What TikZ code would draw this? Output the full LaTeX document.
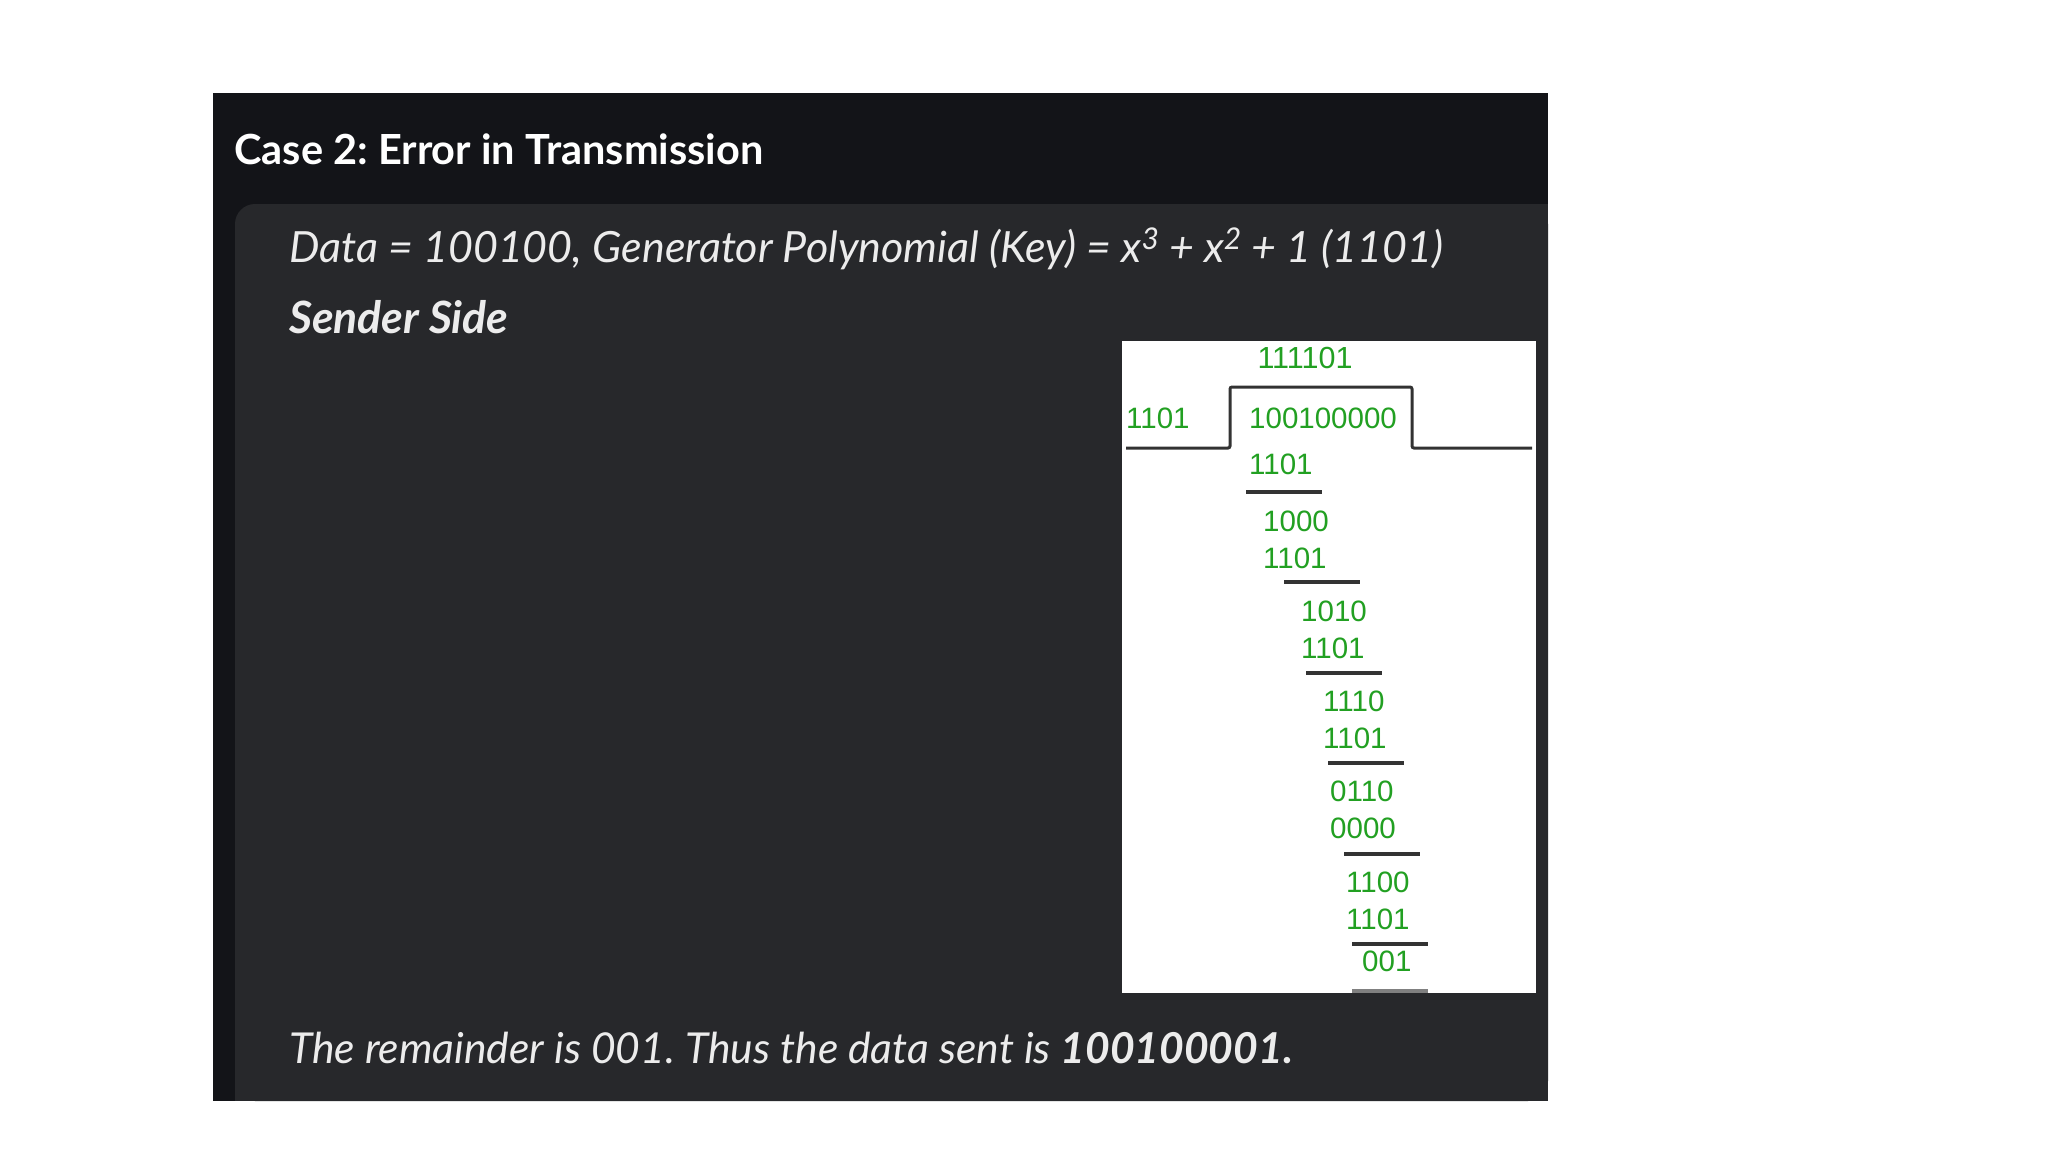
\documentclass[tikz,border=0pt]{standalone}
\usepackage{fontspec}
\setmainfont{Lato}
\newfontfamily\digitfont{Liberation Sans}
\frenchspacing
\definecolor{hdr}{HTML}{131418}
\definecolor{card}{HTML}{27282B}
\definecolor{txt}{HTML}{ECECEC}
\definecolor{grn}{HTML}{22A022}
\definecolor{rule}{HTML}{333333}
\newcommand{\supr}[1]{\raisebox{0.62ex}{\fontsize{30}{30}\selectfont #1}}
\begin{document}
\begin{tikzpicture}[x=1pt,y=-1pt,
  dig/.style={font=\digitfont\fontsize{29.5}{29.5}\selectfont, text=grn, inner sep=0pt, anchor=west},
  divline/.style={draw=rule, line width=3.2pt},
  body/.style={text=txt, inner sep=0pt, anchor=west}]
\useasboundingbox (0,0) rectangle (2048,1152);
\fill[white] (0,0) rectangle (2048,1152);
% panels
\fill[hdr] (213,93) rectangle (1548,1101);
\fill[card, rounded corners=20pt] (235,204) -- (1548,204) -- (1548,1101) -- (235,1101) -- cycle;
\fill[card] (1500,204) rectangle (1548,1101);
\fill[card] (235,1060) rectangle (1548,1101);
% texts
\node[body, text=white, font=\bfseries\fontsize{41.5}{41.5}\selectfont] (title) at (234,149) {Case 2: Error in Transmission};
\node[body, font=\itshape\fontsize{43}{43}\selectfont] (data) at (289,249) {Data = 100100, Generator Polynomial (Key) = x\supr{3} + x\supr{2} + 1 (1101)};
\node[body, font=\bfseries\itshape\fontsize{44.5}{44.5}\selectfont] (sender) at (289,317) {Sender Side};
\node[body, font=\itshape\fontsize{42.6}{42.6}\selectfont] (result) at (289,1048) {The remainder is 001. Thus the data sent is \textbf{100100001.}};
% white box
\fill[white] (1122,341) rectangle (1536,993);
\node[dig, anchor=center, font=\digitfont\fontsize{30.5}{30.5}\selectfont] (q) at (1305,358) {111101};
\node[dig] (key) at (1126,418) {1101};
\node[dig] (dd) at (1249,418) {100100000};
\draw[line width=3pt, draw=rule, rounded corners=2pt] (1126,448) -- (1230,448) -- (1230,387) -- (1412,387) -- (1412,448) -- (1532,448);
\node[dig] (s1) at (1249,464) {1101};
\draw[divline] (1246,492) -- (1322,492);
\node[dig] (r1) at (1263,521) {1000};
\node[dig] (s2) at (1263,558) {1101};
\draw[divline] (1284,582) -- (1360,582);
\node[dig] (r2) at (1301,611) {1010};
\node[dig] (s3) at (1301,648) {1101};
\draw[divline] (1306,673) -- (1382,673);
\node[dig] (r3) at (1323,701) {1110};
\node[dig] (s4) at (1323,738) {1101};
\draw[divline] (1328,763) -- (1404,763);
\node[dig] (r4) at (1330,791) {0110};
\node[dig] (s5) at (1330,828) {0000};
\draw[divline] (1344,854) -- (1420,854);
\node[dig] (r5) at (1346,882) {1100};
\node[dig] (s6) at (1346,919) {1101};
\draw[divline] (1352,944) -- (1428,944);
\node[dig] (rem) at (1362,961) {001};
\draw[draw=gray, line width=4pt] (1352,991) -- (1428,991);
\end{tikzpicture}
\end{document}
